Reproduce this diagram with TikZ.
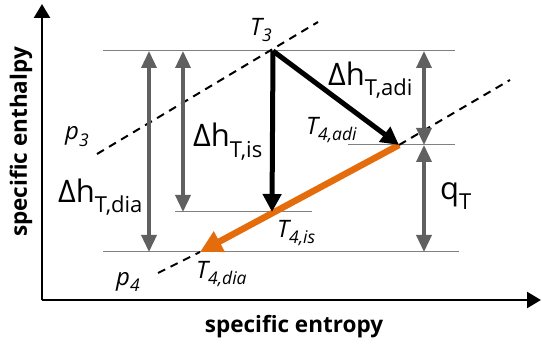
\documentclass[tikz,border=0pt]{standalone}
\usepackage{fontspec}
\setmainfont{Open Sans}
\usetikzlibrary{arrows.meta}
\definecolor{orng}{RGB}{228,108,10}
\definecolor{dgray}{RGB}{96,96,96}
\definecolor{lgray}{RGB}{128,128,128}
\newcommand\mydsub[1]{\raisebox{-10pt}{\fontsize{22}{26}\selectfont #1}}
\newcommand\myssub[1]{\raisebox{-6pt}{\fontsize{17.5}{21}\selectfont #1}}
\begin{document}
\begin{tikzpicture}[x=1pt,y=-1pt,
  axis/.style={line width=2.5pt,-{Triangle[length=14pt,width=16pt]}},
  guide/.style={draw=lgray,line width=1pt},
  dim/.style={draw=dgray,line width=3.5pt,{Triangle[length=17pt,width=15pt]}-{Triangle[length=17pt,width=15pt]}},
  proc/.style={line width=5pt,-{Triangle[length=18pt,width=18pt]}},
  diab/.style={draw=orng,line width=6.5pt,-{Triangle[length=22pt,width=22pt]}},
  isobar/.style={line width=2pt,dash pattern=on 8pt off 6pt},
  big/.style={font=\fontsize{31}{36}\selectfont,inner sep=0pt,anchor=base west},
  state/.style={font=\fontsize{24}{28}\selectfont\itshape,inner sep=0pt,anchor=base west},
  axlabel/.style={font=\fontsize{22.5}{26}\selectfont\bfseries,inner sep=0pt}
]
\useasboundingbox (0,0) rectangle (542,345);
% axes
\coordinate (O) at (42,300);
\coordinate (ytip) at (42,4);
\coordinate (xtip) at (541,300);
\draw[axis] (O) -- (ytip);
\draw[axis] (O) -- (xtip);
\node[axlabel,rotate=90] (ylab) at (21,142) {specific enthalpy};
\node[axlabel,anchor=base] (xlab) at (294,332) {specific entropy};
% states
\coordinate (T3) at (273,51);
\coordinate (T4adi) at (399,145);
\coordinate (T4is) at (272,212);
\coordinate (T4dia) at (200,252);
% guide lines
\coordinate (g1a) at (103,51);  \coordinate (g1b) at (455,51);
\coordinate (g2a) at (348,145); \coordinate (g2b) at (455,145);
\coordinate (g3a) at (175,212); \coordinate (g3b) at (312,212);
\coordinate (g4a) at (103,252); \coordinate (g4b) at (459,252);
\draw[guide] (g1a) -- (g1b);
\draw[guide] (g2a) -- (g2b);
\draw[guide] (g3a) -- (g3b);
\draw[guide] (g4a) -- (g4b);
% isobars
\coordinate (p3a) at (97,154); \coordinate (p3b) at (318,22);
\coordinate (p4a) at (158,273); \coordinate (p4b) at (510,80);
\draw[isobar] (p3a) -- (p3b);
\draw[isobar] (p4a) -- (T4dia);
\draw[isobar] (T4adi) -- (p4b);
% dimension arrows
\coordinate (d1a) at (149,51);  \coordinate (d1b) at (149,252);
\coordinate (d2a) at (183,51);  \coordinate (d2b) at (183,212);
\coordinate (d3a) at (424,51);  \coordinate (d3b) at (424,145);
\coordinate (d4a) at (424,145); \coordinate (d4b) at (424,252);
\draw[dim] (d1a) -- (d1b);
\draw[dim] (d2a) -- (d2b);
\draw[dim] (d3a) -- (d3b);
\draw[dim] (d4a) -- (d4b);
% process arrows
\draw[diab] (T4adi) -- (T4dia);
\draw[proc] (T3) -- (T4is);
\draw[proc] (T3) -- (T4adi);
% labels
\node[state] (lT3) at (250,36) {T\myssub{3}};
\node[state] (lT4adi) at (306,135) {T\myssub{4,adi}};
\node[state] (lT4is) at (277,237) {T\myssub{4,is}};
\node[state] (lT4dia) at (196,278) {T\myssub{4,dia}};
\node[state] (lp3) at (65,140) {p\myssub{3}};
\node[state] (lp4) at (116,285) {p\myssub{4}};
\node[big] (ladi) at (328,86) {Δh\mydsub{T,adi}};
\node[big] (lis) at (193,147) {Δh\mydsub{T,is}};
\node[big] (ldia) at (58,203) {Δh\mydsub{T,dia}};
\node[big] (lq) at (440,200) {q\mydsub{T}};
\end{tikzpicture}
\end{document}
